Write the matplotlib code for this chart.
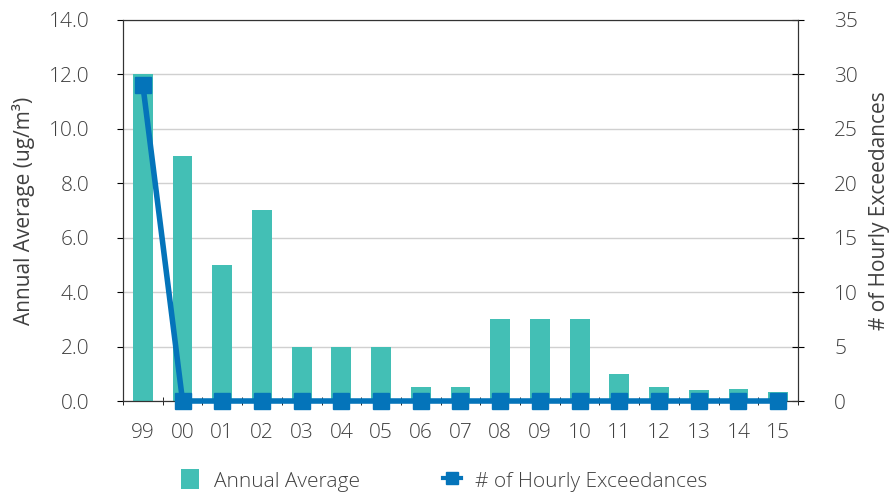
import matplotlib.pyplot as plt
from matplotlib.lines import Line2D
import numpy as np

years = ['99', '00', '01', '02', '03', '04', '05', '06', '07', '08',
         '09', '10', '11', '12', '13', '14', '15']
annual_avg = [12.0, 9.0, 5.0, 7.0, 2.0, 2.0, 2.0, 0.5, 0.5, 3.0,
              3.0, 3.0, 1.0, 0.5, 0.4, 0.45, 0.33]
exceedances = [29, 0, 0, 0, 0, 0, 0, 0, 0, 0, 0, 0, 0, 0, 0, 0, 0]

plt.rcParams['font.family'] = ['Open Sans', 'DejaVu Sans']
plt.rcParams['font.weight'] = 'light'

bar_color = '#43BFB5'
line_color = '#0474BA'
text_color = '#404040'

fig = plt.figure(figsize=(8.94, 4.93), dpi=100)
ax = fig.add_axes([0.1376, 0.1866, 0.755, 0.773])
x = np.arange(len(years))

bars = ax.bar(x, annual_avg, width=0.5, color=bar_color, zorder=2)
ax.set_ylim(0, 14)
ax.set_yticks(np.arange(0, 14.1, 2))
ax.set_yticklabels([f'{v:.1f}' for v in np.arange(0, 14.1, 2)])
ax.set_xlim(-0.5, len(years) - 0.5)
ax.set_xticks(x)
ax.set_xticklabels(years)
ax.set_xticks(np.arange(-0.5, len(years), 1), minor=True)
ax.tick_params(axis='x', which='major', length=0, pad=16)
ax.tick_params(axis='x', which='minor', length=6, direction='inout')
ax.tick_params(axis='y', length=4, direction='out', pad=20)
ax.tick_params(labelsize=15, labelcolor=text_color)
ax.grid(axis='y', color='#d0d0d0', linewidth=1, zorder=0)
ax.set_axisbelow(True)
ax.set_ylabel('Annual Average (ug/m³)', fontsize=15, color=text_color, labelpad=10)

ax2 = ax.twinx()
ax2.plot(x, exceedances, color=line_color, linewidth=4, marker='s',
         markersize=11, zorder=3, clip_on=False)
ax2.set_ylim(0, 35)
ax2.set_yticks(np.arange(0, 36, 5))
ax2.tick_params(axis='y', length=8, direction='inout', labelsize=15,
                labelcolor=text_color, pad=22)
ax2.set_ylabel('# of Hourly Exceedances', fontsize=15, color=text_color, labelpad=8)

for a in (ax, ax2):
    for s in ('left', 'right', 'bottom', 'top'):
        a.spines[s].set_color('#333333')

line_handle = Line2D([], [], color=line_color, linewidth=3, marker='s', markersize=8)
fig.legend([bars, line_handle], ['Annual Average', '# of Hourly Exceedances'],
           loc='lower center', ncol=2, frameon=False, fontsize=15,
           bbox_to_anchor=(0.497, -0.035), columnspacing=4,
           handlelength=0.85, handleheight=1.1, handletextpad=0.7,
           labelcolor=text_color)

fig.savefig('out.png', dpi=100)
